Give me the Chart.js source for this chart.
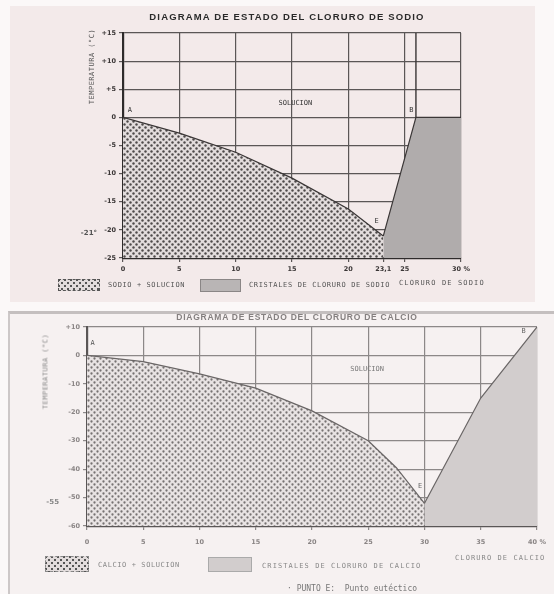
<!DOCTYPE html>
<html><head><meta charset="utf-8">
<script src="https://cdn.jsdelivr.net/npm/chart.js@4"></script>
<style>
body{margin:0;width:554px;height:594px;background:#fbf8f8;position:relative;overflow:hidden;font-family:"Liberation Sans",Arial,sans-serif}
.abs{position:absolute;white-space:nowrap}
.mono{font-family:"DejaVu Sans Mono",monospace;font-size:7px;letter-spacing:0.6px;color:#555}
.dots{background:radial-gradient(circle,#555 1px,transparent 1.4px) 0 0/6px 6px,radial-gradient(circle,#555 1px,transparent 1.4px) 3px 3px/6px 6px,#e2dcdc;border:1px dashed #555;box-sizing:border-box}
.gray{background:#b9b5b5;border:1px solid #8a8686;box-sizing:border-box}
.ytitle{transform:rotate(-90deg);text-align:center;font-family:"DejaVu Sans Mono",monospace;font-size:7px;letter-spacing:0.5px;color:#555}
</style></head>
<body>
<div class="abs" style="left:10px;top:6px;width:525px;height:296px;background:#f3eaea"></div>
<div class="abs" style="left:8px;top:311px;width:546px;height:283px;background:#f6f1f1;border-top:3px solid #c4bfbf;border-left:2px solid #cdc8c8"></div>
<canvas id="c1" class="abs" style="left:0;top:0" width="554" height="300"></canvas>
<canvas id="c2" class="abs" style="left:0;top:300px" width="554" height="294"></canvas>

<div class="abs" style="left:287px;top:11px;transform:translateX(-50%);font-weight:bold;font-size:9.5px;letter-spacing:1.15px;color:#2a2a2a">DIAGRAMA DE ESTADO DEL CLORURO DE SODIO</div>
<div class="abs ytitle" style="left:52px;top:62px;width:80px;height:9px">TEMPERATURA (°C)</div>
<div class="abs dots" style="left:58px;top:279px;width:42px;height:12px"></div>
<div class="abs mono" style="left:108px;top:281px">SODIO + SOLUCION</div>
<div class="abs gray" style="left:200px;top:279px;width:41px;height:13px"></div>
<div class="abs mono" style="left:249px;top:281px;letter-spacing:0.65px">CRISTALES DE CLORURO DE SODIO</div>
<div class="abs mono" style="left:399px;top:279px;letter-spacing:1.15px">CLORURO DE SODIO</div>

<div class="abs" style="left:297px;top:312px;transform:translateX(-50%);font-weight:bold;font-size:8.5px;letter-spacing:0.75px;color:#858080">DIAGRAMA DE ESTADO DEL CLORURO DE CALCIO</div>
<div class="abs ytitle" style="left:0px;top:367px;width:92px;height:9px;color:#888">TEMPERATURA (°C)</div>
<div class="abs dots" style="left:45px;top:556px;width:44px;height:16px;border-color:#888"></div>
<div class="abs mono" style="left:98px;top:561px;color:#888">CALCIO + SOLUCION</div>
<div class="abs gray" style="left:208px;top:557px;width:44px;height:15px;background:#d2cdcd;border-color:#aaa"></div>
<div class="abs mono" style="left:262px;top:562px;color:#888;letter-spacing:1.1px">CRISTALES DE CLORURO DE CALCIO</div>
<div class="abs mono" style="left:455px;top:554px;color:#888;letter-spacing:1.1px">CLORURO DE CALCIO</div>
<div class="abs" style="left:287px;top:584px;font-family:'DejaVu Sans Mono',monospace;font-size:8px;color:#777">· PUNTO E: &nbsp;Punto eutéctico</div>

<script>
// ---- Data: sodium chloride diagram ----
const naIceX = [0, 5, 10, 15, 20, 23.1];
const naIceT = [0, -2.8, -6.2, -10.8, -16.3, -21.1];
const naSaltX = [23.1, 26, 30];
const naSaltT = [-21.1, 0, 0];
const naSolX = [26, 26];
const naSolT = [0, 15];
const naXTicks = [0, 5, 10, 15, 20, 23.1, 25, 30];
const naXLabels = ['0', '5', '10', '15', '20', '23,1', '25', '30 %'];
const naYTicks = [15, 10, 5, 0, -5, -10, -15, -20, -25];
const naYLabels = ['+15', '+10', '+5', '0', '-5', '-10', '-15', '-20', '-25'];

// ---- Data: calcium chloride diagram ----
const caIceX = [0, 5, 10, 15, 20, 25, 27.5, 30];
const caIceT = [0, -2.2, -6.5, -11.5, -19.5, -30, -39.5, -52];
const caSaltX = [30, 35, 40];
const caSaltT = [-52, -15, 10];
const caXTicks = [0, 5, 10, 15, 20, 25, 30, 35, 40];
const caXLabels = ['0', '5', '10', '15', '20', '25', '30', '35', '40 %'];
const caYTicks = [10, 0, -10, -20, -30, -40, -50, -60];
const caYLabels = ['+10', '0', '-10', '-20', '-30', '-40', '-50', '-60'];

function pts(xs, ys) { return xs.map((x, i) => ({x, y: ys[i]})); }

function dotPattern(bg, dot, r) {
  const c = document.createElement('canvas'); c.width = 6; c.height = 6;
  const g = c.getContext('2d');
  g.fillStyle = bg; g.fillRect(0, 0, 6, 6);
  g.fillStyle = dot;
  [[1.5, 1.5], [4.5, 4.5]].forEach(([a, b]) => { g.beginPath(); g.arc(a, b, r, 0, Math.PI * 2); g.fill(); });
  return g.createPattern(c, 'repeat');
}

const textPlugin = {
  id: 'texts',
  afterDraw(chart, args, opts) {
    const ctx = chart.ctx, sx = chart.scales.x, sy = chart.scales.y;
    ctx.save();
    (opts.items || []).forEach(it => {
      ctx.font = it.font || '7px "DejaVu Sans Mono", monospace';
      ctx.fillStyle = it.color || '#333';
      ctx.textAlign = it.align || 'center';
      ctx.textBaseline = 'middle';
      const px = it.outside ? chart.chartArea.left - it.outside : sx.getPixelForValue(it.x);
      ctx.fillText(it.text, px, sy.getPixelForValue(it.y));
    });
    ctx.restore();
  }
};

function makeChart(id, cfg) {
  const tickFont = {family: '"DejaVu Sans", sans-serif', size: cfg.tickSize, weight: 'bold'};
  return new Chart(document.getElementById(id), {
    type: 'scatter',
    data: {datasets: cfg.datasets},
    options: {
      responsive: false, animation: false,
      layout: {padding: cfg.padding},
      plugins: {legend: {display: false}, tooltip: {enabled: false}, texts: {items: cfg.texts}},
      elements: {point: {radius: 0}, line: {tension: 0}},
      scales: {
        x: {
          type: 'linear', min: cfg.xTicks[0], max: cfg.xTicks[cfg.xTicks.length - 1], z: 1,
          afterFit: s => { s.height = cfg.xh; },
          afterBuildTicks: s => { s.ticks = cfg.xTicks.map(v => ({value: v})); },
          ticks: {autoSkip: false, maxRotation: 0, color: cfg.tickColor, font: tickFont, padding: cfg.xpad,
                  callback: (v) => cfg.xLabels[cfg.xTicks.indexOf(v)]},
          grid: {color: c => (cfg.noGrid.includes(c.tick && c.tick.value) ? 'rgba(0,0,0,0)' : cfg.gridColor),
                 lineWidth: 1.2, tickLength: 4, tickColor: cfg.gridColor},
          border: {color: cfg.borderColor, width: 2.2}
        },
        y: {
          type: 'linear', min: cfg.yTicks[cfg.yTicks.length - 1], max: cfg.yTicks[0], z: 1,
          afterFit: s => { s.width = cfg.yw; },
          afterBuildTicks: s => { s.ticks = cfg.yTicks.slice().reverse().map(v => ({value: v})); },
          ticks: {autoSkip: false, color: cfg.tickColor, font: tickFont, padding: 3,
                  callback: (v) => cfg.yLabels[cfg.yTicks.indexOf(v)]},
          grid: {color: cfg.gridColor, lineWidth: 1.2, tickLength: 4, tickColor: cfg.gridColor},
          border: {color: cfg.borderColor, width: 2.2}
        }
      }
    },
    plugins: [textPlugin]
  });
}

// Sodium chloride chart
makeChart('c1', {
  padding: {top: 33, right: 93, bottom: 0, left: 0}, xh: 42, yw: 123, xpad: 3, tickSize: 6.5,
  xTicks: naXTicks, xLabels: naXLabels, yTicks: naYTicks, yLabels: naYLabels,
  noGrid: [23.1], gridColor: '#5a5656', borderColor: '#2e2b2b', tickColor: '#3a3636',
  datasets: [
    {data: pts(naIceX, naIceT), showLine: true, borderColor: '#3a3636', borderWidth: 1.2,
     backgroundColor: dotPattern('#e2dcdc', '#4e4a4a', 1.2), fill: {target: {value: -25}}},
    {data: pts(naSaltX, naSaltT), showLine: true, borderColor: '#3a3636', borderWidth: 1.2,
     backgroundColor: '#b0acac', fill: {target: {value: -25}}},
    {data: pts(naSolX, naSolT), showLine: true, borderColor: '#3a3636', borderWidth: 1.4, fill: false}
  ],
  texts: [
    {text: 'A', x: 0.6, y: 1.2},
    {text: 'SOLUCION', x: 15.3, y: 2.5},
    {text: 'B', x: 25.6, y: 1.3},
    {text: 'E', x: 22.5, y: -18.5},
    {text: '-21°', outside: 26, y: -20.6, align: 'right', font: 'bold 7px "DejaVu Sans", sans-serif', color: '#555'}
  ]
});

// Calcium chloride chart
makeChart('c2', {
  padding: {top: 27, right: 17, bottom: 0, left: 0}, xh: 68, yw: 87, xpad: 8, tickSize: 6.5,
  xTicks: caXTicks, xLabels: caXLabels, yTicks: caYTicks, yLabels: caYLabels,
  noGrid: [], gridColor: '#8c8888', borderColor: '#5a5656', tickColor: '#8a8585',
  datasets: [
    {data: pts(caIceX, caIceT), showLine: true, borderColor: '#6a6666', borderWidth: 1.2,
     backgroundColor: dotPattern('#e8e3e3', '#767272', 1.15), fill: {target: {value: -60}}},
    {data: pts(caSaltX, caSaltT), showLine: true, borderColor: '#6a6666', borderWidth: 1.2,
     backgroundColor: '#d2cdcd', fill: {target: {value: -60}}}
  ],
  texts: [
    {text: 'A', x: 0.5, y: 4.2, color: '#555'},
    {text: 'SOLUCION', x: 24.9, y: -4.9, color: '#777'},
    {text: 'E', x: 29.6, y: -46, color: '#666'},
    {text: 'B', x: 38.8, y: 8.5, color: '#666'},
    {text: '-55', outside: 28, y: -51.5, align: 'right', font: 'bold 7px "DejaVu Sans", sans-serif', color: '#888'}
  ]
});
</script>
</body></html>
